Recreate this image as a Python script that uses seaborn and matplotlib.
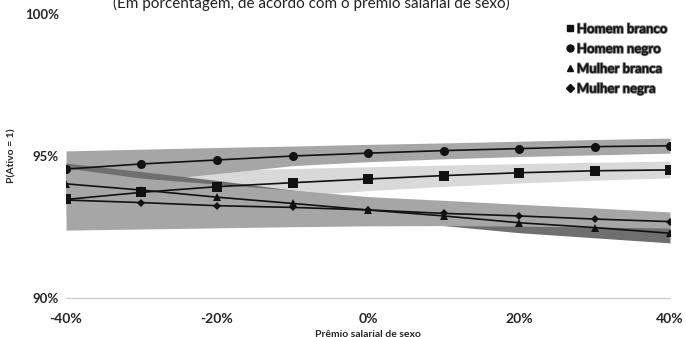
import matplotlib
matplotlib.use("Agg")
import matplotlib.pyplot as plt
import matplotlib.patheffects as pe
from matplotlib.lines import Line2D
import seaborn as sns
import pandas as pd

# Prêmio salarial de sexo (%)
premio = [-40, -30, -20, -10, 0, 10, 20, 30, 40]

# Probabilidades previstas, P(Ativo = 1), em %
homem_branco = [93.47, 93.72, 93.92, 94.06, 94.19, 94.31, 94.41, 94.48, 94.51]
homem_negro = [94.54, 94.72, 94.86, 95.00, 95.10, 95.19, 95.26, 95.33, 95.36]
mulher_branca = [94.02, 93.80, 93.55, 93.33, 93.10, 92.89, 92.65, 92.48, 92.28]
mulher_negra = [93.45, 93.36, 93.25, 93.19, 93.10, 92.98, 92.89, 92.78, 92.69]

# Intervalos de confiança (limite inferior / superior)
hb_lo = [92.90, 93.15, 93.40, 93.60, 93.78, 93.93, 94.05, 94.15, 94.23]
hb_hi = [94.30, 94.40, 94.50, 94.56, 94.62, 94.68, 94.73, 94.78, 94.82]
hn_lo = [93.85, 94.12, 94.38, 94.66, 94.80, 94.90, 94.98, 95.04, 95.10]
hn_hi = [95.18, 95.24, 95.30, 95.35, 95.41, 95.46, 95.52, 95.58, 95.63]
mb_lo = [93.40, 93.25, 93.10, 92.90, 92.70, 92.55, 92.30, 92.12, 91.94]
mb_hi = [94.75, 94.45, 94.14, 93.80, 93.50, 93.20, 92.95, 92.75, 92.60]
mn_lo = [92.39, 92.43, 92.47, 92.51, 92.54, 92.55, 92.53, 92.50, 92.46]
mn_hi = [94.58, 94.22, 94.01, 93.80, 93.57, 93.44, 93.30, 93.17, 93.03]

x_ticks = [-40, -20, 0, 20, 40]
x_labels = ["-40%", "-20%", "0%", "20%", "40%"]
y_ticks = [90, 95, 100]
y_labels = ["90%", "95%", "100%"]

series = ["Homem branco", "Homem negro", "Mulher branca", "Mulher negra"]

sns.set_style("white")
plt.rcParams["font.family"] = ["Lato", "DejaVu Sans"]

fig = plt.figure(figsize=(6.86, 3.37), dpi=100)
ax = fig.add_axes([66 / 686, 1 - 298 / 337, 604 / 686, 284 / 337])

# Faixas de confiança (ordem de desenho define as sobreposições)
ax.fill_between(premio, hb_lo, hb_hi, color="#d9d9d9", lw=0, zorder=1)
ax.fill_between(premio, hn_lo, hn_hi, color="#a6a6a6", lw=0, zorder=2)
ax.fill_between(premio, mb_lo, mb_hi, color="#6f6f6f", lw=0, zorder=3)
ax.fill_between(premio, mn_lo, mn_hi, color="#a6a6a6", lw=0, zorder=4)

df = pd.DataFrame({
    "premio": premio * 4,
    "valor": homem_branco + homem_negro + mulher_branca + mulher_negra,
    "grupo": sum([[s] * len(premio) for s in series], []),
})

markers = {"Homem branco": "s", "Homem negro": "o",
           "Mulher branca": "^", "Mulher negra": "D"}
sizes = {"Homem branco": 7, "Homem negro": 6.5,
         "Mulher branca": 6, "Mulher negra": 4.5}

for s in series:
    sub = df[df["grupo"] == s]
    sns.lineplot(data=sub, x="premio", y="valor", ax=ax, color="#111111",
                 lw=1.2, marker=markers[s], markersize=sizes[s],
                 markeredgewidth=0, zorder=6, legend=False)

ax.set_xlim(-40, 40)
ax.set_ylim(90, 100)
ax.set_xticks(x_ticks)
ax.set_xticklabels(x_labels, fontsize=10, fontweight="bold")
ax.set_yticks(y_ticks)
ax.set_yticklabels(y_labels, fontsize=9.5, fontweight="bold")
ax.tick_params(axis="x", direction="in", length=5, color="#d0d0d0",
               width=1, pad=10.5)
ax.tick_params(axis="y", length=0, pad=5)

for side in ["top", "right", "left"]:
    ax.spines[side].set_visible(False)
ax.spines["bottom"].set_color("#d0d0d0")
ax.spines["bottom"].set_linewidth(1)

ax.set_xlabel("Prêmio salarial de sexo", fontsize=7.5, fontweight="bold",
              labelpad=4)
ax.set_ylabel("P(Ativo = 1)", fontsize=7.5, fontweight="bold", labelpad=6)

fig.text(311 / 686, 1 - 3 / 337, "(Em porcentagem, de acordo com o prêmio salarial de sexo)",
         ha="center", va="center", fontsize=11, color="#222222")

handles = [Line2D([], [], ls="none", marker=markers[s], color="#111111",
                  markersize=5 if s != "Mulher negra" else 4)
           for s in series]
leg = ax.legend(handles, series, loc="upper right",
                bbox_to_anchor=(1.016, 1.01), frameon=False,
                handlelength=0.6, handletextpad=0.25, labelspacing=0.6,
                prop={"weight": "bold", "size": 9.5})
for t in leg.get_texts():
    t.set_color("#111111")
    t.set_path_effects([pe.withStroke(linewidth=1.2, foreground="#777777")])

fig.savefig("out.png", dpi=100)
